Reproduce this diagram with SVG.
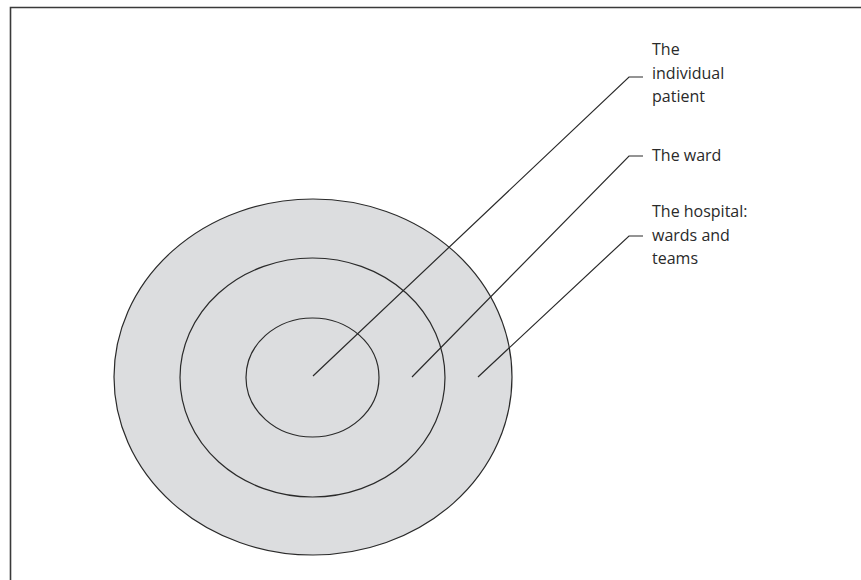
<svg xmlns="http://www.w3.org/2000/svg" width="861" height="580" viewBox="0 0 861 580">
<style>
.ring{fill:#dcdddf;stroke:#2a2a2a;stroke-width:1.2}
.ln{fill:none;stroke:#2a2a2a;stroke-width:1.2}
.lbl{font-family:"Open Sans","Noto Sans",sans-serif;font-size:16px;fill:#2a2a2a}
</style>
<rect width="861" height="580" fill="#fff"/>
<path d="M10.5 580V7.5H861" fill="none" stroke="#3a3a3a" stroke-width="1.6"/>
<g id="hospital"><ellipse class="ring" cx="313" cy="377" rx="199" ry="178"/></g>
<g id="ward"><ellipse class="ring" cx="312.5" cy="377.5" rx="132.5" ry="119.5"/></g>
<g id="patient"><ellipse class="ring" cx="312.5" cy="377.5" rx="66.5" ry="59.5"/></g>
<g id="connectors">
<path class="ln" d="M313 376L629 77H643"/>
<path class="ln" d="M412 377L629 156H643"/>
<path class="ln" d="M478 377L629 236H643"/>
</g>
<g id="label-patient"><text class="lbl" x="652" y="55">The</text><text class="lbl" x="652" y="78.5">individual</text><text class="lbl" x="652" y="102">patient</text></g>
<g id="label-ward"><text class="lbl" x="652" y="161">The ward</text></g>
<g id="label-hospital"><text class="lbl" x="652" y="217">The hospital:</text><text class="lbl" x="652" y="240.5">wards and</text><text class="lbl" x="652" y="264">teams</text></g>
</svg>
